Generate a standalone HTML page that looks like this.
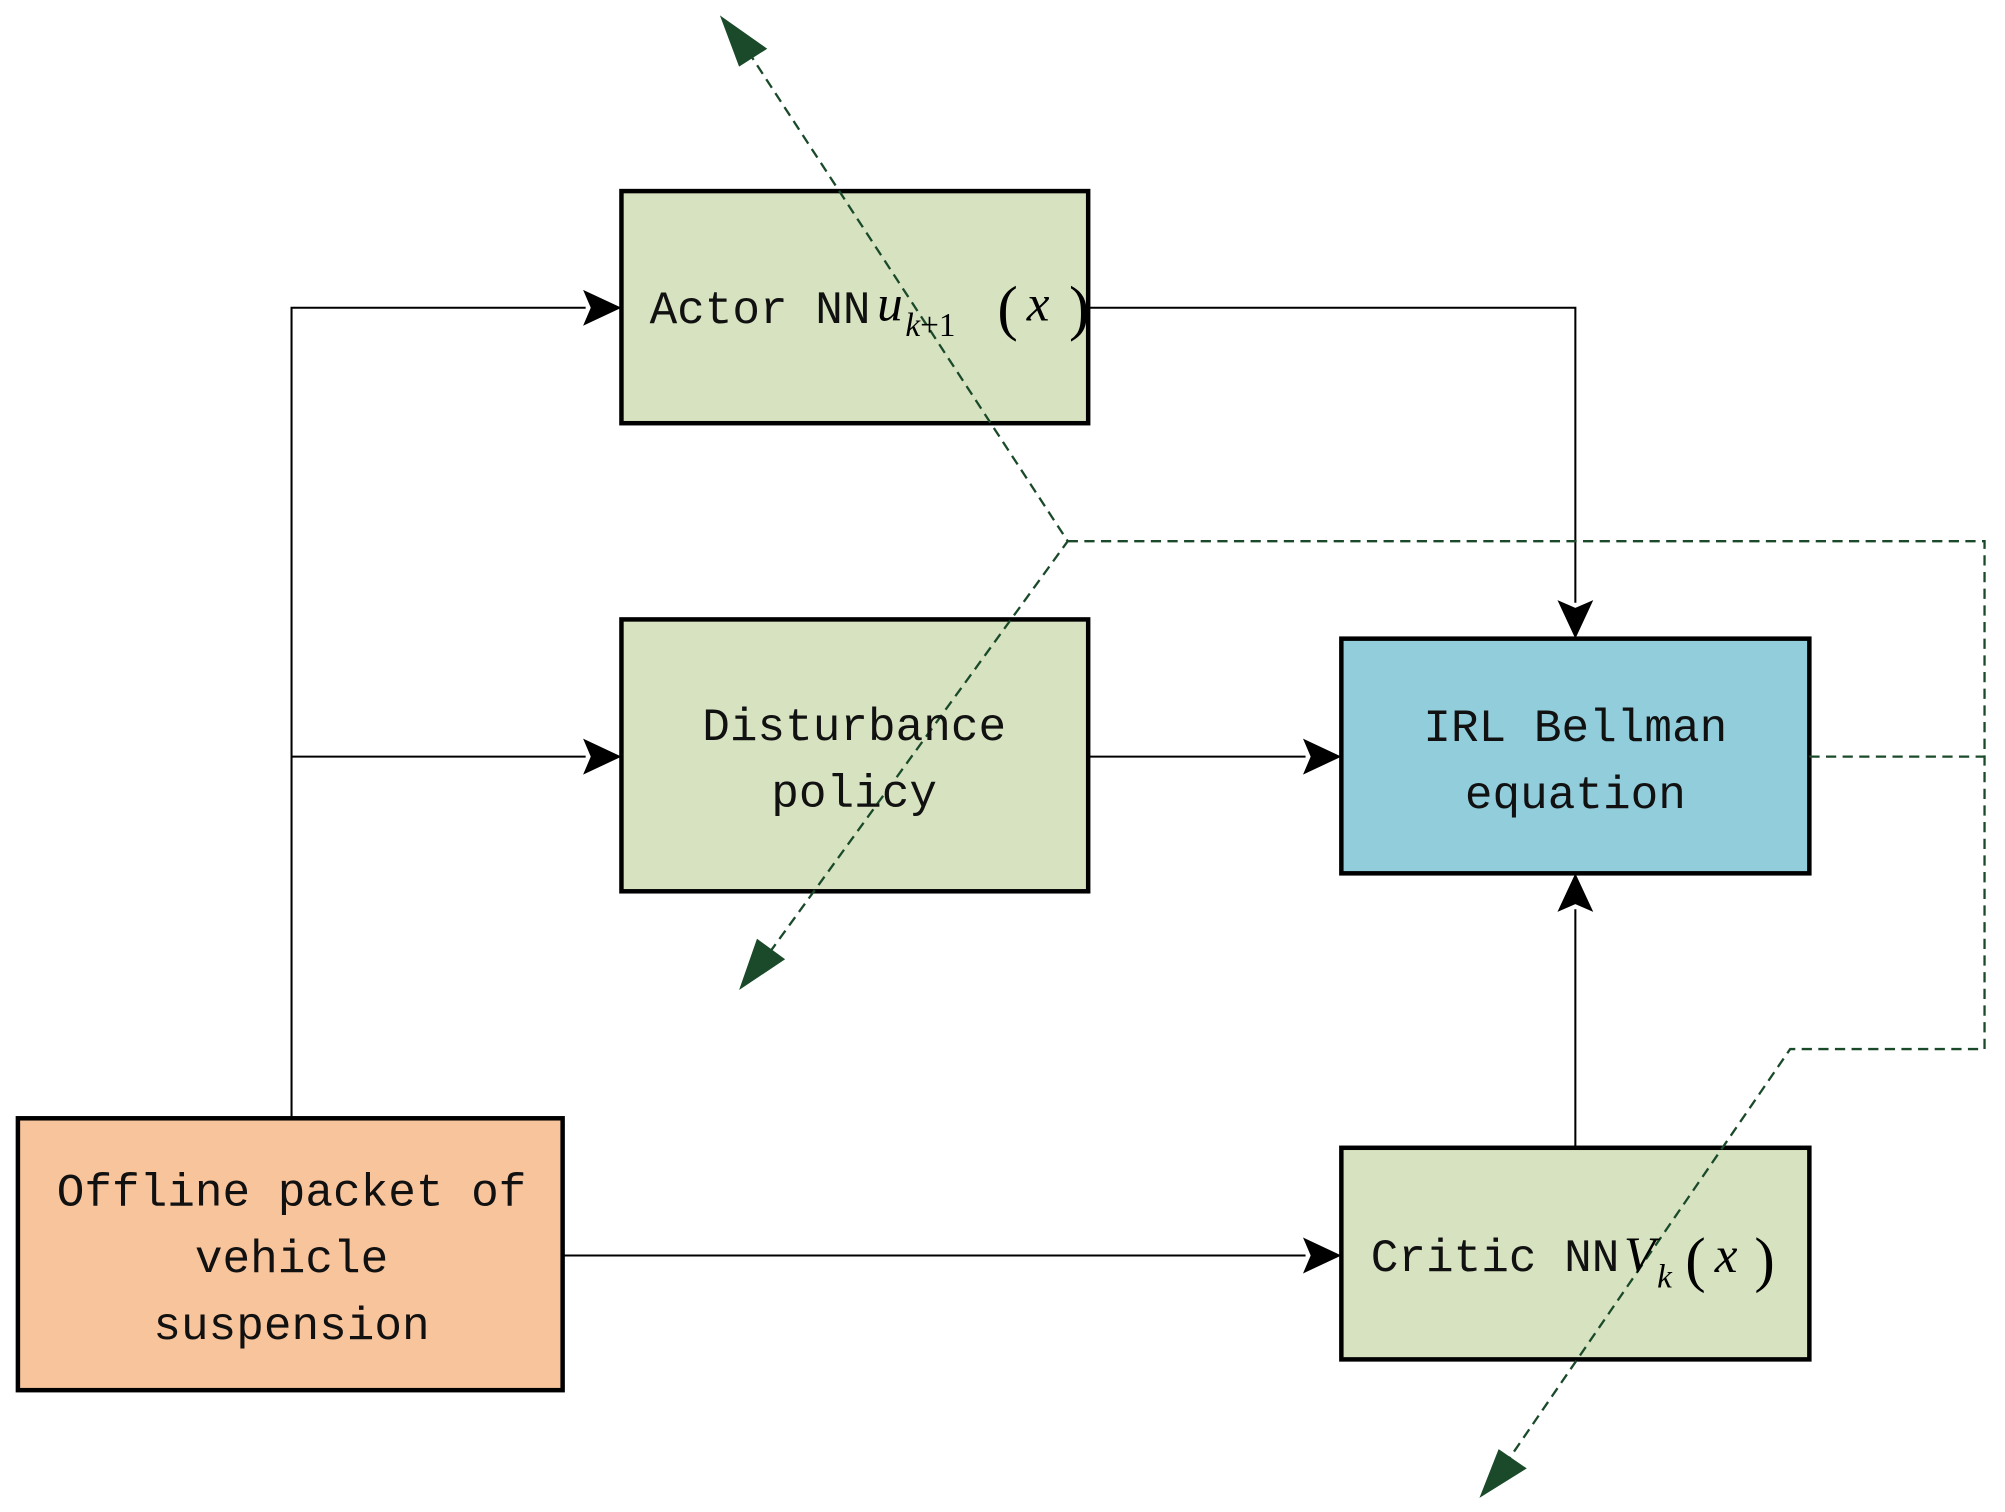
<!DOCTYPE html>
<html><head><meta charset="utf-8"><style>html,body{margin:0;padding:0;background:#fff}svg{display:block}</style></head><body>
<svg width="2005" height="1512" viewBox="0 0 1568 1179" preserveAspectRatio="none" xmlns="http://www.w3.org/2000/svg">
<g stroke-width="3.5" stroke="#000">
<rect x="486" y="149" width="365" height="181" fill="#d7e3c0"/>
<rect x="486" y="483" width="365" height="212" fill="#d7e3c0"/>
<rect x="1049" y="498" width="366" height="183" fill="#92cddc"/>
<rect x="1049" y="895" width="366" height="165" fill="#d7e3c0"/>
<rect x="14" y="872" width="426" height="212" fill="#f8c49c"/>
</g>
<g stroke="#000" stroke-width="1.6" fill="none">
<path d="M228,872 V240 H458"/>
<path d="M228,590 H458"/>
<path d="M851,240 H1232 V470"/>
<path d="M851,590 H1021"/>
<path d="M1232,895 V709"/>
<path d="M440,979 H1021"/>
</g>
<g fill="#000">
<path d="M486,240 L456,226 L462,240 L456,254Z"/>
<path d="M486,590 L456,576 L462,590 L456,604Z"/>
<path d="M1049,590 L1019,576 L1025,590 L1019,604Z"/>
<path d="M1049,979 L1019,965 L1025,979 L1019,993Z"/>
<path d="M1232,498 L1218,468 L1232,474 L1246,468Z"/>
<path d="M1232,681 L1218,711 L1232,705 L1246,711Z"/>
</g>
<g stroke="#1a4a2a" stroke-width="1.8" fill="none" stroke-dasharray="8,5">
<path d="M585,40 L835,422 L598,748"/>
<path d="M835,422 H1552 V818 H1400 L1175,1145"/>
<path d="M1415,590 H1552"/>
</g>
<g fill="#1a4a2a">
<path d="M563,12 L600,38 L578,52Z"/>
<path d="M578,772 L592,732 L614,748Z"/>
<path d="M1157,1168 L1172,1130 L1194,1145Z"/>
</g>
<g font-family="Liberation Mono, monospace" font-size="36" fill="#111" text-anchor="middle">
<text x="668" y="577">Disturbance</text>
<text x="668" y="629">policy</text>
<text x="1232" y="578">IRL Bellman</text>
<text x="1232" y="630">equation</text>
<text x="228" y="940">Offline packet of</text>
<text x="228" y="992">vehicle</text>
<text x="228" y="1044">suspension</text>
<text x="508" y="252" text-anchor="start">Actor NN</text>
<text x="1072" y="991" text-anchor="start">Critic NN</text>
</g>
<g font-family="Liberation Serif, serif" fill="#000">
<text x="686" y="250" font-size="40" font-style="italic">u</text>
<text x="708" y="262" font-size="26"><tspan font-style="italic">k</tspan>+1</text>
<text x="780" y="256" font-size="48">(</text>
<text x="803" y="250" font-size="40" font-style="italic">x</text>
<text x="836" y="256" font-size="48">)</text>
<text x="1270" y="992" font-size="40" font-style="italic">V</text>
<text x="1296" y="1004" font-size="26" font-style="italic">k</text>
<text x="1318" y="998" font-size="48">(</text>
<text x="1341" y="992" font-size="40" font-style="italic">x</text>
<text x="1372" y="998" font-size="48">)</text>
</g>
</svg>
</body></html>
